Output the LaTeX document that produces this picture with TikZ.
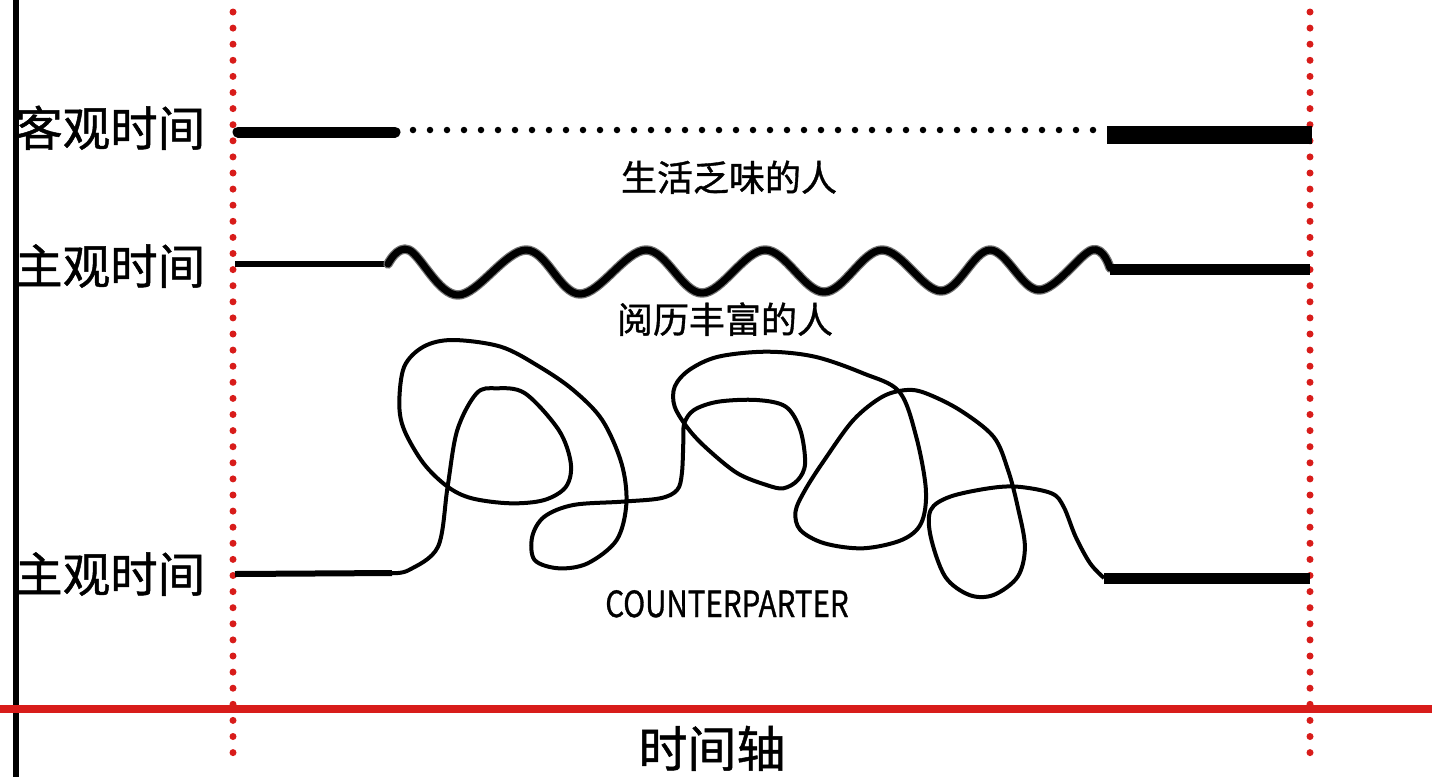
\documentclass[tikz,border=0pt]{standalone}
\usepackage{fontspec}
\newfontfamily\cjk{Noto Sans CJK SC}
\newfontfamily\cjkheavy[RawFeature={embolden=1.0}]{Noto Sans CJK SC}
\definecolor{axisred}{RGB}{216,28,26}
\begin{document}
\begin{tikzpicture}[x=1pt,y=-1pt,
  reddots/.style={axisred, line width=7pt, line cap=round, dash pattern=on 0pt off 16.1pt},
  blackdots/.style={black, line width=6.5pt, line cap=round, dash pattern=on 0pt off 17pt},
  biglabel/.style={font=\cjkheavy\fontsize{47.5}{47.5}\selectfont, inner sep=0pt, anchor=base west},
  midlabel/.style={font=\cjkheavy\fontsize{36}{36}\selectfont, inner sep=0pt, anchor=base},
  thinline/.style={line width=6pt},
  heavyline/.style={line width=11pt},
  curve/.style={line width=4pt, line join=round}]
\useasboundingbox[fill=white] (0,0) rectangle (1432,777);

% axes
\coordinate (vtop) at (16,0);
\coordinate (vbot) at (16,777);
\draw[line width=6pt] (vtop) -- (vbot);
\coordinate (hl) at (0,709);
\coordinate (hr) at (1432,709);
\draw[axisred, line width=8pt] (hl) -- (hr);
\coordinate (l1) at (233,12);
\coordinate (l2) at (233,760);
\coordinate (r1) at (1310,12);
\coordinate (r2) at (1310,760);
\draw[reddots] (l1) -- (l2);
\draw[reddots] (r1) -- (r2);

% labels
\node[biglabel] (obj) at (15,146) {客观时间};
\node[biglabel] (sub1) at (15,284) {主观时间};
\node[biglabel] (sub2) at (15,592) {主观时间};
\node[font=\cjkheavy\fontsize{49}{49}\selectfont, inner sep=0pt, anchor=base] (axis) at (712,767) {时间轴};
\node[midlabel] (dull) at (729,191) {生活乏味的人};
\node[midlabel] (rich) at (725,333) {阅历丰富的人};
\node[font=\cjkheavy\fontsize{36}{36}\selectfont, inner sep=0pt, anchor=base] (cp) at (727,617) {\scalebox{0.82}[1]{COUNTERPARTER}};

% row 1: objective time
\coordinate (a1) at (238,132);
\coordinate (a2) at (395,132);
\coordinate (a3) at (413,130);
\coordinate (a4) at (1100,130);
\coordinate (a5) at (1107,135);
\coordinate (a6) at (1312,135);
\draw[heavyline, line cap=round] (a1) -- (a2);
\draw[blackdots] (a3) -- (a4);
\draw[line width=18pt] (a5) -- (a6);

% row 2: subjective time, wave
\coordinate (b1) at (235,264);
\coordinate (b2) at (388,264);
\coordinate (b3) at (1110,269);
\coordinate (b4) at (1310,269);
\draw[thinline] (b1) -- (b2);
\draw[line width=9.5pt, black!55, line cap=round, line join=round]
  plot[smooth, tension=0.6] coordinates {(388,264) (409,250) (458,295) (526,250) (580,294) (646,250) (702,293) (765,250) (824,292) (882,250) (941,291) (990,250) (1039,290) (1092,250) (1110,268)};
\draw[line width=7pt, line cap=round, line join=round]
  plot[smooth, tension=0.6] coordinates {(388,264) (409,250) (458,295) (526,250) (580,294) (646,250) (702,293) (765,250) (824,292) (882,250) (941,291) (990,250) (1039,290) (1092,250) (1110,268)};
\draw[heavyline] (b3) -- (b4);

% row 3: tangled curve
\coordinate (c1) at (235,574);
\coordinate (c2) at (392,573);
\coordinate (c3) at (1104,578);
\coordinate (c4) at (1310,578);
\draw[thinline] (c1) -- (c2);
\draw[curve] plot[smooth, tension=0.55] coordinates {
(392,573) (409,570) (438,546.7) (447.6,486.7) (457.3,430) (476.6,393.3) (496,388.3)
(525,393.3) (558.7,430) (570.8,463.3) (566,486.7) (544.3,500) (510.4,503.3) (471.8,498.3)
(447.6,486.7) (423.5,463.3) (404.2,430) (399.3,403.3) (404.2,366.7) (423.5,346.7) (452.5,340)
(500.8,346.7) (539.4,366.7) (573.2,390) (602.2,420) (621.5,463.3) (626.4,503.3) (616.7,540)
(587.7,563.3) (558.7,568.3) (534.6,560) (532.2,536.7) (544.3,516.7) (573.2,505) (621.5,501.7)
(660.2,498.3) (677.1,490) (681.9,473.3) (683.4,440) (684.3,423.3) (694,410) (718.2,401.7)
(756.8,400) (785.8,406.7) (800.3,430) (805.1,463.3) (797.9,480) (783.4,488.3) (766.5,485)
(737.5,473.3) (708.5,450) (689.2,430) (674.7,406.7) (674.7,386.7) (689.2,370) (718.2,356.7)
(766.5,351.7) (814.8,356.7) (863.1,373.3) (899.3,391.7) (916.2,436.7) (925.9,490) (921.1,523.3)
(901.7,540) (863.1,548.3) (824.4,543.3) (800.3,530) (795.5,511.7) (805.1,490) (824.4,460)
(853.4,420) (882.4,396.7) (906.6,390) (925.9,393.3) (959.7,410) (993.5,436.7) (1008,470)
(1017.7,506.7) (1024.9,546.7) (1017.7,576.7) (993.5,595) (969.4,595) (945.2,576.7) (930.7,536.7)
(930.7,510) (950,496.7) (988.7,488.3) (1017.7,486.7) (1051.5,493.3) (1063.6,506.7) (1075.6,536.7)
(1090.1,563.3) (1104,578)};
\draw[heavyline] (c3) -- (c4);
\end{tikzpicture}
\end{document}
